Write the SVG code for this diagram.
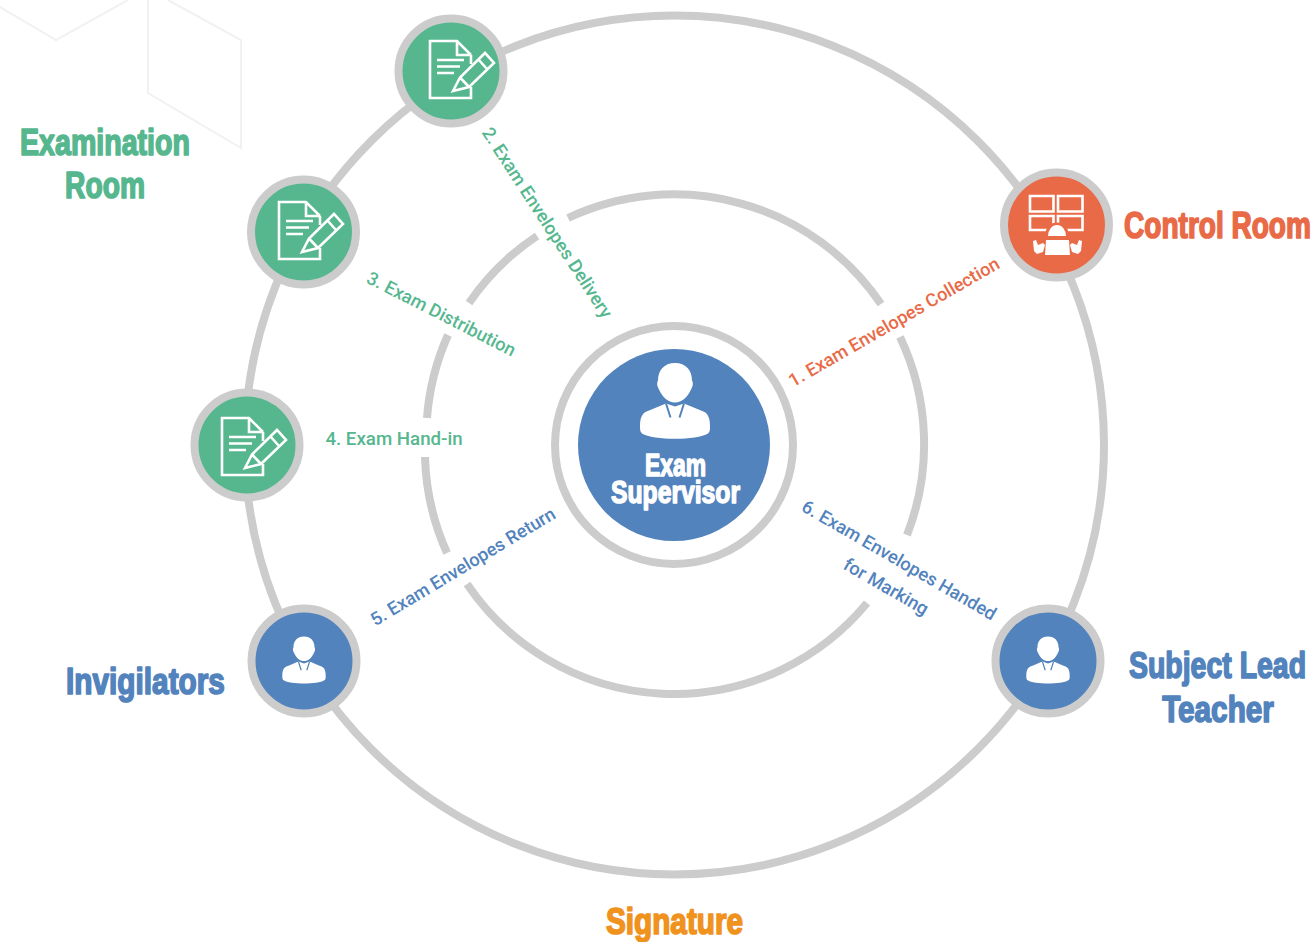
<svg xmlns="http://www.w3.org/2000/svg" width="1313" height="942" viewBox="0 0 1313 942">
<style>
.ring{fill:none;stroke:#ccc;stroke-width:8}
.hex{fill:none;stroke:#eff1f3;stroke-width:2}
.node{stroke:#ccc;stroke-width:8}
.g{fill:#56b78f}.o{fill:#e96a47}.b{fill:#5283bd}.y{fill:#f0921e}
.h{font-family:"Liberation Sans",Arial,sans-serif;font-weight:700;text-anchor:middle;font-size:37px;stroke-width:1.7px;stroke-linejoin:round}
.h.g{stroke:#56b78f}.h.o{stroke:#e96a47}.h.b{stroke:#5283bd}.h.y{stroke:#f0921e}
.h.w{fill:#fff;stroke:#fff;font-size:31px;stroke-width:1.5px}
.l{font-family:Roboto,"Liberation Sans",sans-serif;font-weight:500;font-size:18.250px;text-anchor:middle}
.l.s{font-size:18.700px}
.ic{fill:none;stroke:#fff;stroke-width:2.600;stroke-linejoin:miter}
</style>
<defs>
<g id="doc" class="ic">
<path d="M20,-16L6,-30H-21V27H20V16M20,-16V-7M6,-30V-16H20"/>
<path d="M-14,-11H13M-14,-4.500H9M-14,2H3"/>
<path d="M2,20L9,6.500L34,-18L43,-8L18,16ZM9,6.500L18,16M27,-12L36,-2"/>
</g>
<g id="person">
<path fill="#fff" d="M0,-39.500C-11,-39.500 -17,-32 -17,-22C-18.500,-20 -18,-16 -16,-13C-13,-6 -7,0 0,0C7,0 13,-6 16,-13C18,-16 18.500,-20 17,-22C17,-32 11,-39.500 0,-39.500Z"/>
<path fill="#fff" d="M-9,1L-26,8C-33,10 -35,15 -35,24C-35,27 -35,29 -33,31C-22,38 22,38 33,31C35,29 35,27 35,24C35,15 33,10 26,8L9,1L0,4Z"/>
<path fill="none" stroke="#5283bd" stroke-width="2" d="M-9,1L-4.500,15M9,1L4.500,15"/>
</g>
</defs>
<g id="background-lines">
<path class="hex" d="M0,7L56,40L128,0"/>
<path class="hex" d="M148,0V93L241,148V40L168,0"/>
</g>
<g id="connectors">
<circle class="ring" cx="674.500" cy="445" r="429.500"/>
<path class="ring" d="M568,218A250,250 0 0 1 881,304"/>
<path class="ring" d="M900,337A250,250 0 0 1 907,535"/>
<path class="ring" d="M867,603A250,250 0 0 1 467,584"/>
<path class="ring" d="M447,553A250,250 0 0 1 425,457"/>
<path class="ring" d="M427,418A250,250 0 0 1 448,335"/>
<path class="ring" d="M469,303A250,250 0 0 1 537,236"/>
<circle class="ring" cx="674" cy="445" r="119"/>
</g>
<g id="exam-supervisor">
<circle class="b" cx="674" cy="445" r="96"/>
<use href="#person" transform="translate(675,402.500)"/>
<text class="h w" transform="translate(675.500,476) scale(.738,1)">Exam</text>
<text class="h w" transform="translate(675.500,503) scale(.797,1)">Supervisor</text>
</g>
<g id="control-room">
<circle class="node o" cx="1056.500" cy="225" r="52.500"/>
<g transform="translate(1057,225)">
<path class="ic" d="M-27,-29H-3.500V-13.500H-27ZM1,-29H25.500V-13.500H1ZM-27,-9H-3.500V5H-27ZM1,-9H25.500V5H1Z"/>
<circle class="o" cx="0" cy="9" r="11.500"/>
<path fill="#fff" d="M-9,11A9,11 0 0 1 9,11ZM-11,15H12L13,30H-12ZM-24,16L-21,15L-19,20L-14,18L-12,20L-14,27L-20,29L-23,26ZM25,16L22,15L20,20L15,18L13,20L15,27L21,29L24,26Z"/>
</g>
<text class="h o" transform="translate(1217.500,238) scale(.758,1)">Control Room</text>
</g>
<g id="room-1">
<circle class="node g" cx="451" cy="71" r="52.500"/>
<use href="#doc" transform="translate(451,71)"/>
</g>
<g id="room-2">
<circle class="node g" cx="303.500" cy="232" r="52.500"/>
<use href="#doc" transform="translate(300,232)"/>
</g>
<g id="room-3">
<circle class="node g" cx="247" cy="445" r="52.500"/>
<use href="#doc" transform="translate(243,448)"/>
</g>
<g id="examination-room-label">
<text class="h g" transform="translate(105,155) scale(.773,1)">Examination</text>
<text class="h g" transform="translate(105,198) scale(.763,1)">Room</text>
</g>
<g id="invigilators">
<circle class="node b" cx="304" cy="661" r="52.500"/>
<use href="#person" transform="translate(304,661) scale(.62)"/>
<text class="h b" transform="translate(145.500,694) scale(.805,1)">Invigilators</text>
</g>
<g id="subject-lead-teacher">
<circle class="node b" cx="1048" cy="661" r="52.500"/>
<use href="#person" transform="translate(1048,661) scale(.62)"/>
<text class="h b" transform="translate(1217.500,678) scale(.769,1)">Subject Lead</text>
<text class="h b" transform="translate(1218,722) scale(.803,1)">Teacher</text>
</g>
<g id="signature">
<text class="h y" transform="translate(674.500,934) scale(.803,1)">Signature</text>
</g>
<g id="connector-labels">
<text class="l o" transform="translate(897,327.500) rotate(-30)">1. Exam Envelopes Collection</text>
<text class="l g" transform="translate(542,226) rotate(57)">2. Exam Envelopes Delivery</text>
<text class="l g" transform="translate(438.500,319.500) rotate(27)">3. Exam Distribution</text>
<text class="l g s" x="394" y="444.500">4. Exam Hand-in</text>
<text class="l b" transform="translate(466,572) rotate(-31)">5. Exam Envelopes Return</text>
<text class="l b" transform="translate(896,565.500) rotate(30)">6. Exam Envelopes Handed</text>
<text class="l b" transform="translate(883,592) rotate(30)">for Marking</text>
</g>
</svg>
